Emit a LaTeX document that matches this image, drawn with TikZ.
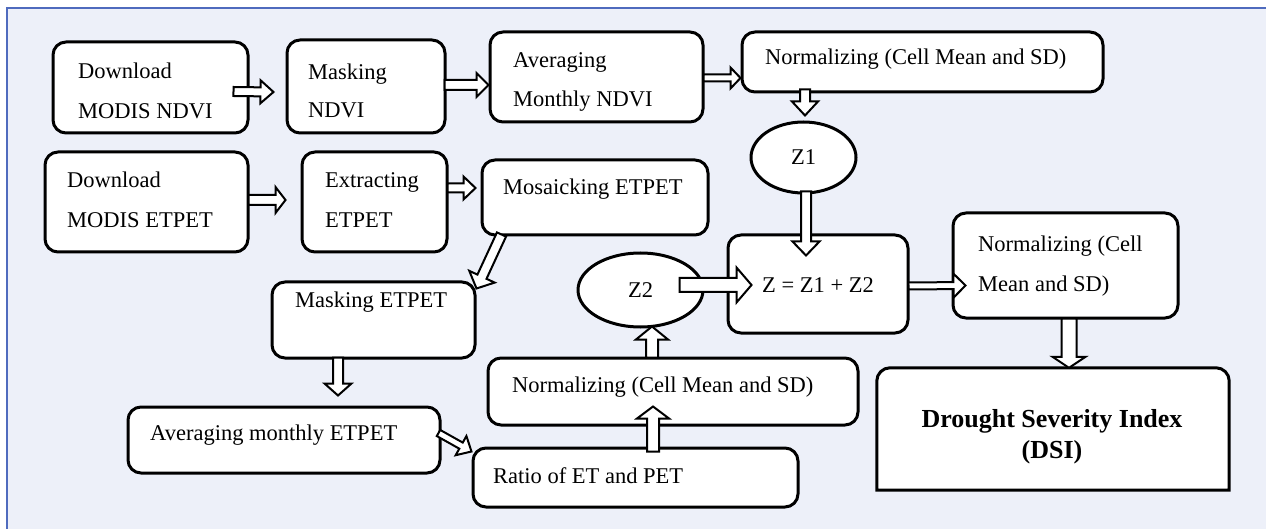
\documentclass[tikz,border=0pt]{standalone}
\usepackage{fontspec}
\setmainfont{Liberation Serif}
\usetikzlibrary{calc,shapes.geometric}
\definecolor{bg}{RGB}{237,240,249}
\definecolor{frame}{RGB}{79,107,190}
\tikzset{
  boxnode/.style={draw=black, line width=3pt, fill=white, rounded corners=13pt, inner sep=0pt},
  ellnode/.style={ellipse, draw=black, line width=3pt, fill=white, inner sep=0pt, font=\fontsize{22.5}{26}\selectfont},
  txt/.style={anchor=base west, inner sep=0pt, font=\fontsize{22.5}{26}\selectfont},
  btxt/.style={anchor=base, inner sep=0pt, font=\fontsize{26}{30}\selectfont\bfseries},
  barrow/.style={draw=black, line width=2pt, fill=white, line join=miter}
}
\newcommand\blockarrow[5]{%
  \coordinate (bs) at #1;
  \coordinate (be) at #2;
  \coordinate (ba) at ($(be)!#5!(bs)$);
  \draw[barrow] ($(bs)!#3!90:(be)$) -- ($(ba)!#3!-90:(bs)$) -- ($(ba)!#4!-90:(bs)$) -- (be)
     -- ($(ba)!#4!90:(bs)$) -- ($(ba)!#3!90:(bs)$) -- ($(bs)!#3!-90:(be)$) -- cycle;}
\begin{document}
\begin{tikzpicture}[x=1pt,y=-1pt]
\useasboundingbox (0,0) rectangle (1266,529);
\fill[white] (0,0) rectangle (1266,529);
\fill[bg] (7,8) rectangle (1266,529);
\draw[frame, line width=1.5pt] (7,529) -- (7,8) -- (1266,8);

% boxes
\node[boxnode, minimum width=195pt, minimum height=91pt] (dn) at (150.5,87.5) {};
\node[boxnode, minimum width=158pt, minimum height=93pt] (mn) at (366,86.5) {};
\node[boxnode, minimum width=213pt, minimum height=90pt] (an) at (596.5,77) {};
\node[boxnode, minimum width=361pt, minimum height=60pt] (nt) at (922.5,62) {};
\node[ellnode, minimum width=105pt, minimum height=71pt] (z1) at (803.5,157.5) {Z1};
\node[boxnode, minimum width=203pt, minimum height=100pt] (de) at (146.5,202) {};
\node[boxnode, minimum width=145pt, minimum height=100pt] (ex) at (374.5,202) {};
\node[boxnode, minimum width=226pt, minimum height=75pt] (mo) at (595,197.5) {};
\node[boxnode, minimum width=180pt, minimum height=98pt] (zb) at (818,284) {};
\node[boxnode, minimum width=225pt, minimum height=105pt] (nr) at (1065.5,265.5) {};
\node[inner sep=0pt, minimum width=352pt, minimum height=122pt] (dsi) at (1053,429) {};
\draw[line width=3pt, fill=white, line join=miter] (dsi.south west)
  -- ([shift={(0,13)}]dsi.north west)
  .. controls ([shift={(0,6)}]dsi.north west) and ([shift={(6,0)}]dsi.north west) .. ([shift={(13,0)}]dsi.north west)
  -- ([shift={(-13,0)}]dsi.north east)
  .. controls ([shift={(-6,0)}]dsi.north east) and ([shift={(0,6)}]dsi.north east) .. ([shift={(0,13)}]dsi.north east)
  -- (dsi.south east) -- cycle;
\node[ellnode, minimum width=125pt, minimum height=74pt] (z2) at (640.5,290) {Z2};
\node[boxnode, minimum width=203pt, minimum height=76pt] (me) at (373.5,320) {};
\node[boxnode, minimum width=370pt, minimum height=67pt] (nl) at (673,391.5) {};
\node[boxnode, minimum width=312pt, minimum height=66pt] (am) at (284,440) {};
\node[boxnode, minimum width=325pt, minimum height=59pt] (ra) at (635.5,477.5) {};

% texts
\node[txt] (t1) at (78,79) {Download};
\node[txt] (t2) at (78,119) {MODIS NDVI};
\node[txt] (t3) at (308,80) {Masking};
\node[txt] (t4) at (308,118) {NDVI};
\node[txt] (t5) at (513,68) {Averaging};
\node[txt] (t6) at (513,107) {Monthly NDVI};
\node[txt] (t7) at (765,65) {Normalizing (Cell Mean and SD)};
\node[txt] (t8) at (67,188) {Download};
\node[txt] (t9) at (67,228) {MODIS ETPET};
\node[txt] (t10) at (325,188) {Extracting};
\node[txt] (t11) at (325,228) {ETPET};
\node[txt] (t12) at (503,195) {Mosaicking ETPET};
\node[txt] (t13) at (762,293) {Z = Z1 + Z2};
\node[txt] (t14) at (978,252) {Normalizing (Cell};
\node[txt] (t15) at (978,291) {Mean and SD)};
\node[txt] (t16) at (295,308) {Masking ETPET};
\node[txt] (t17) at (512,392) {Normalizing (Cell Mean and SD)};
\node[txt] (t18) at (150,440) {Averaging monthly ETPET};
\node[txt] (t19) at (493,483) {Ratio of ET and PET};
\node[btxt] (t20) at (1052,427) {Drought Severity Index};
\node[btxt] (t21) at (1052,458) {(DSI)};

% block arrows: from, to, shaft half width, head half width, head length
\blockarrow{([shift={(-16,4)}]dn.east)}{([shift={(-12,5.5)}]mn.west)}{4.5pt}{11.5pt}{13pt}
\blockarrow{([shift={(-2,-1.5)}]mn.east)}{([shift={(0,8)}]an.west)}{5pt}{12pt}{12pt}
\blockarrow{([shift={(-1,1)}]an.east)}{([shift={(0,16)}]nt.west)}{3.5pt}{10.5pt}{10pt}
\blockarrow{([shift={(1.5,-31)}]z1.north)}{([shift={(1.5,-5)}]z1.north)}{5pt}{13pt}{14pt}
\blockarrow{([shift={(2.5,-3)}]z1.south)}{([shift={(-12,22)}]zb.north)}{5pt}{13.5pt}{14pt}
\blockarrow{([shift={(-1,-2)}]de.east)}{([shift={(-15,-2)}]ex.west)}{5pt}{13pt}{10pt}
\blockarrow{([shift={(-1,-14)}]ex.east)}{([shift={(-5,-9.5)}]mo.west)}{4.5pt}{11.5pt}{12pt}
\blockarrow{([shift={(21,-2)}]mo.south west)}{([shift={(0,8)}]me.north east)}{5pt}{14pt}{13pt}
\blockarrow{([shift={(-35.5,-2)}]me.south)}{([shift={(54,-10)}]am.north)}{5pt}{13.5pt}{12pt}
\blockarrow{([shift={(-3,-7)}]am.east)}{([shift={(0,5)}]ra.north west)}{3.5pt}{11pt}{12pt}
\blockarrow{([shift={(17.5,5)}]ra.north)}{([shift={(-20,-20)}]nl.south)}{6pt}{16pt}{12pt}
\blockarrow{([shift={(-21,1)}]nl.north)}{([shift={(11.5,-2)}]z2.south)}{6pt}{16pt}{13pt}
\blockarrow{([shift={(-25,-5)}]z2.east)}{([shift={(25,1)}]zb.west)}{7pt}{17.5pt}{15pt}
\blockarrow{([shift={(-1,2)}]zb.east)}{([shift={(14,20)}]nr.west)}{3.5pt}{12pt}{12pt}
\blockarrow{([shift={(3.5,-1)}]nr.south)}{([shift={(16,0)}]dsi.north)}{7.5pt}{16.5pt}{11pt}
\end{tikzpicture}
\end{document}
